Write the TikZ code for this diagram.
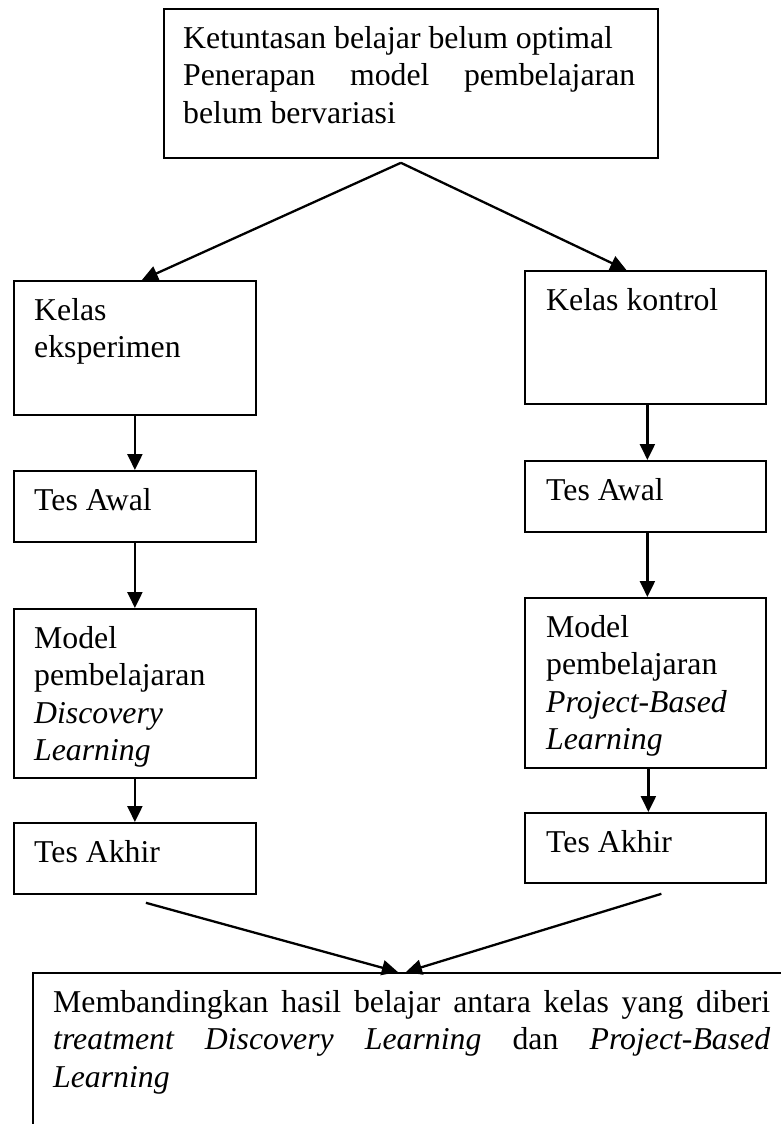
\documentclass[tikz,border=0pt]{standalone}
\usepackage{fontspec}
\setmainfont{Liberation Serif}
\usetikzlibrary{arrows.meta}
\newcommand{\diagfont}{\fontsize{31.9pt}{37.6pt}\selectfont}
\newcommand{\topstrut}{\rule{0pt}{27bp}}
\tolerance=10000
\hyphenpenalty=10000
\exhyphenpenalty=10000
\parindent=0pt
\begin{document}
\begin{tikzpicture}[x=1bp,y=-1bp,
  frame/.style={draw, line width=1.8bp, inner sep=0pt, anchor=north west},
  txt/.style={inner sep=0pt, anchor=north west, align=left, font=\diagfont},
  jtxt/.style={inner sep=0pt, anchor=north west, align=justify, font=\diagfont},
  conn/.style={line width=2.3bp, -{Triangle[length=16bp,width=15bp]}}]
\useasboundingbox (0,0) rectangle (781,1124);

% frames
\node[frame, minimum width=494bp, minimum height=149bp] (top) at (163,8) {};
\node[frame, minimum width=242bp, minimum height=134bp] (l1) at (13,280) {};
\node[frame, minimum width=242bp, minimum height=71bp]  (l2) at (13,470) {};
\node[frame, minimum width=242bp, minimum height=169bp] (l3) at (13,608) {};
\node[frame, minimum width=242bp, minimum height=71bp]  (l4) at (13,822) {};
\node[frame, minimum width=241bp, minimum height=133bp] (r1) at (524,270) {};
\node[frame, minimum width=241bp, minimum height=71bp]  (r2) at (524,460) {};
\node[frame, minimum width=241bp, minimum height=170bp] (r3) at (524,597) {};
\node[frame, minimum width=241bp, minimum height=70bp]  (r4) at (524,812) {};
\node[frame, minimum width=780bp, minimum height=220bp] (bot) at (32,972) {};

% texts
\node[jtxt, text width=452bp] (top-t) at (183,21)
  {\topstrut Ketuntasan belajar belum optimal\\ Penerapan model pembelajaran belum bervariasi};
\node[txt] (l1-t) at (34,293) {\topstrut Kelas\\eksperimen};
\node[txt] (l2-t) at (34,483) {\topstrut Tes Awal};
\node[txt] (l3-t) at (34,621) {\topstrut Model\\pembelajaran\\\textit{Discovery}\\\textit{Learning}};
\node[txt] (l4-t) at (34,835) {\topstrut Tes Akhir};
\node[txt] (r1-t) at (546,283) {\topstrut Kelas kontrol};
\node[txt] (r2-t) at (546,473) {\topstrut Tes Awal};
\node[txt] (r3-t) at (546,610) {\topstrut Model\\pembelajaran\\\textit{Project-Based}\\\textit{Learning}};
\node[txt] (r4-t) at (546,825) {\topstrut Tes Akhir};
\node[jtxt, text width=717bp] (bot-t) at (53,985)
  {\topstrut Membandingkan hasil belajar antara kelas yang diberi \textit{treatment Discovery Learning} dan \textit{Project-Based Learning}};

% connectors
\coordinate (apex) at ([xshift=-10bp,yshift=-4bp]top.south);
\draw[conn] (apex) -- ([xshift=7bp]l1.north);
\draw[conn] (apex) -- ([xshift=-19bp]r1.north);
\draw[conn] (l1.south) -- (l2.north);
\draw[conn] (l2.south) -- (l3.north);
\draw[conn] (l3.south) -- (l4.north);
\draw[conn] ([xshift=2bp]r1.south) -- ([xshift=2bp]r2.north);
\draw[conn] ([xshift=2bp]r2.south) -- ([xshift=2bp]r3.north);
\draw[conn] ([xshift=3bp]r3.south) -- ([xshift=3bp]r4.north);
\draw[conn] ([xshift=11bp,yshift=-8bp]l4.south) -- ([xshift=-25bp]bot.north);
\draw[conn] ([xshift=16bp,yshift=-10bp]r4.south) -- ([xshift=-17bp]bot.north);
\end{tikzpicture}
\end{document}
